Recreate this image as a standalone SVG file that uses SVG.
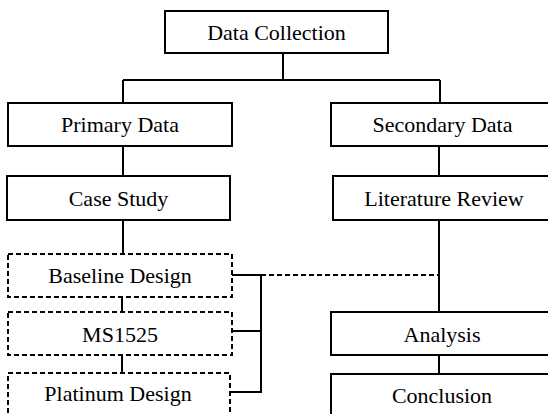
<svg xmlns="http://www.w3.org/2000/svg" width="548" height="414" viewBox="0 0 548 414">
<style>
.box{fill:#fff;stroke:#000;stroke-width:2}
.dbox{fill:#fff;stroke:#000;stroke-width:2;stroke-dasharray:5,3}
.ln{fill:none;stroke:#000;stroke-width:2}
.dln{fill:none;stroke:#000;stroke-width:2;stroke-dasharray:5,3}
.t{font-family:"Liberation Serif","DejaVu Serif","Times New Roman",Times,serif;font-size:22px;fill:#000;text-anchor:middle}
</style>
<rect width="548" height="414" fill="#fff"/>
<g id="connectors">
<path class="ln" d="M283 53V80M123 80H440M123 80V103M440 80V103"/>
<path class="ln" d="M123 146V176M439 146V176"/>
<path class="ln" d="M123 220V254M122 297V312M122 355V373"/>
<path class="ln" d="M439 220V312M439 355V374"/>
<path class="ln" d="M232 275H261M232 331H261M230 392H262M261 274V393"/>
<path class="dln" d="M261 275H438"/>
</g>
<g id="data-collection"><rect class="box" x="165" y="11" width="223" height="42"/><text class="t" x="276.5" y="39.5">Data Collection</text></g>
<g id="primary-data"><rect class="box" x="8" y="103" width="224" height="43"/><text class="t" x="120" y="132">Primary Data</text></g>
<g id="secondary-data"><rect class="box" x="331" y="103" width="224" height="43"/><text class="t" x="442.5" y="132">Secondary Data</text></g>
<g id="case-study"><rect class="box" x="7" y="176" width="223" height="44"/><text class="t" x="118.5" y="206">Case Study</text></g>
<g id="literature-review"><rect class="box" x="333" y="176" width="222" height="44"/><text class="t" x="444" y="206">Literature Review</text></g>
<g id="baseline-design"><rect class="dbox" x="8" y="254" width="224" height="43"/><text class="t" x="120" y="283">Baseline Design</text></g>
<g id="ms1525"><rect class="dbox" x="8" y="312" width="224" height="43"/><text class="t" x="120" y="341.5">MS1525</text></g>
<g id="platinum-design"><rect class="dbox" x="8" y="373" width="222" height="50"/><text class="t" x="118" y="400.5">Platinum Design</text></g>
<g id="analysis"><rect class="box" x="331" y="312" width="224" height="43"/><text class="t" x="442" y="341.5">Analysis</text></g>
<g id="conclusion"><rect class="box" x="331" y="374" width="224" height="50"/><text class="t" x="442" y="403">Conclusion</text></g>
</svg>
